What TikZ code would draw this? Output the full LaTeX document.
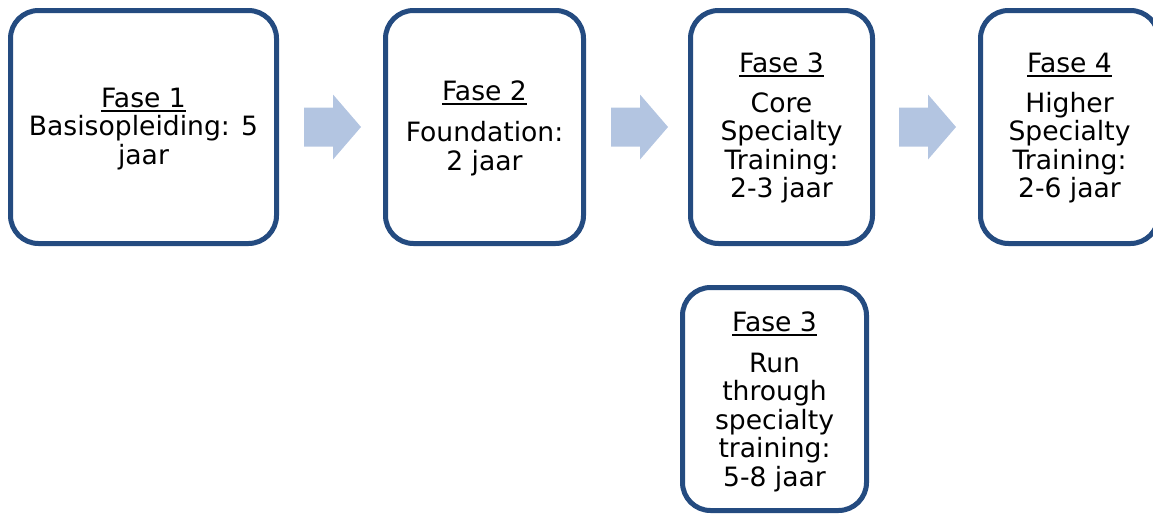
\documentclass[tikz,border=0pt]{standalone}
\usepackage{fontspec}
\setmainfont{DejaVu Sans}
\definecolor{boxblue}{RGB}{36,75,128}
\definecolor{arrowfill}{RGB}{179,197,225}
\newcommand\faseline[1]{\setbox0=\hbox{#1}\rlap{\rule[-4.3pt]{\wd0}{2pt}}\box0}
\newcommand\firstline{\rule{0pt}{20pt}}
\tikzset{
  boxstyle/.style={draw=boxblue, line width=5pt, rectangle, rounded corners=28pt, fill=white, inner sep=0pt},
  labeltext/.style={inner sep=0pt, anchor=north, align=center, text=black, font=\fontsize{26.6}{28.5}\selectfont},
  blockarrow/.pic={\fill[arrowfill] (0,-19.5) -- (29,-19.5) -- (29,-32.5) -- (57,0) -- (29,32.5) -- (29,19.5) -- (0,19.5) -- cycle;}
}
\begin{document}
\begin{tikzpicture}[x=1pt,y=-1pt]
\useasboundingbox (0,0) rectangle (1153,514);
\clip (0,0) rectangle (1153,514);
% boxes
\node[boxstyle, minimum width=266pt, minimum height=233pt] (b1) at (143.5,127) {};
\node[boxstyle, minimum width=198pt, minimum height=233pt] (b2) at (484.5,127) {};
\node[boxstyle, minimum width=182pt, minimum height=233pt] (b3) at (781.5,127) {};
\node[boxstyle, minimum width=178pt, minimum height=233pt] (b4) at (1069.5,127) {};
\node[boxstyle, minimum width=184pt, minimum height=223pt] (b5) at (774.5,399) {};
% texts
\node[labeltext] (t1) at (143.5,87) {\firstline\faseline{Fase 1}\\Basisopleiding: 5\\jaar};
\node[labeltext] (t2) at (484.5,80) {\firstline\faseline{Fase 2}\\[13pt]Foundation:\\2 jaar};
\node[labeltext] (t3) at (781.5,52) {\firstline\faseline{Fase 3}\\[11.5pt]Core\\Specialty\\Training:\\2-3 jaar};
\node[labeltext] (t4) at (1069.5,52) {\firstline\faseline{Fase 4}\\[11.5pt]Higher\\Specialty\\Training:\\2-6 jaar};
\node[labeltext] (t5) at (774.5,311) {\firstline\faseline{Fase 3}\\[12.5pt]Run\\through\\specialty\\training:\\5-8 jaar};
% block arrows
\pic at (304,127) {blockarrow};
\pic at (611,127) {blockarrow};
\pic at (899,127) {blockarrow};
\end{tikzpicture}
\end{document}
